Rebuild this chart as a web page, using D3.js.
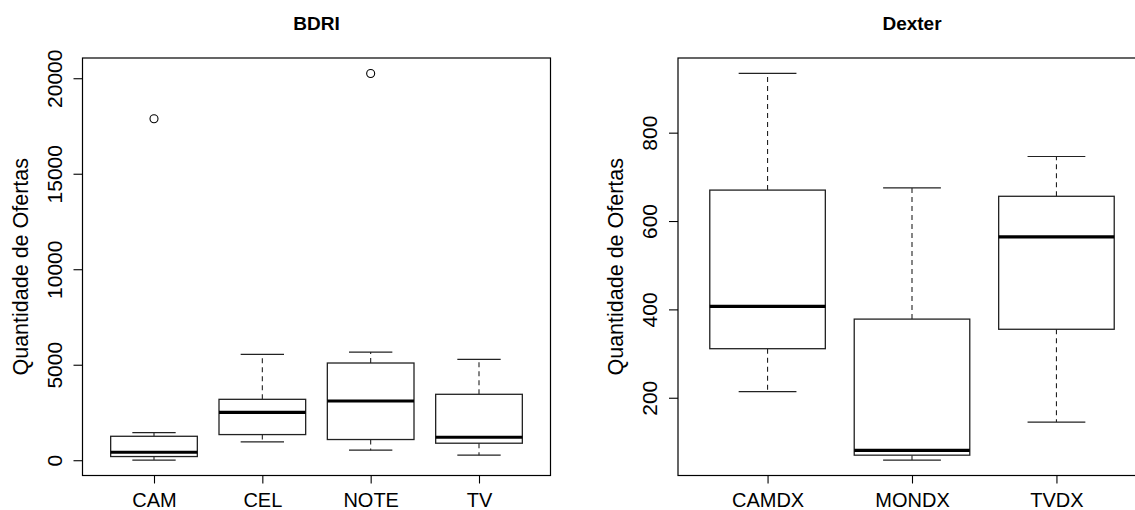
<!DOCTYPE html>
<html>
<head>
<meta charset="utf-8">
<script src="https://cdn.jsdelivr.net/npm/d3@7"></script>
<style>
  html, body { margin: 0; padding: 0; background: #fff; }
  svg { display: block; font-family: "Liberation Sans", Arial, sans-serif; }
</style>
</head>
<body>
<svg id="chart" width="1135" height="510"></svg>
<script>
// ---- data: five-number summaries (lower whisker, Q1, median, Q3, upper whisker) ----
const bdriCategories = ["CAM", "CEL", "NOTE", "TV"];
const bdriLow    = [10, 957, 525, 263];
const bdriQ1     = [193, 1343, 1084, 891];
const bdriMedian = [418, 2509, 3102, 1204];
const bdriQ3     = [1254, 3189, 5090, 3452];
const bdriHigh   = [1448, 5541, 5663, 5282];
const bdriOutliers = [[17880], [], [20250], []];
const bdriTicks = [0, 5000, 10000, 15000, 20000];

const dexterCategories = ["CAMDX", "MONDX", "TVDX"];
const dexterLow    = [214, 59, 145];
const dexterQ1     = [311, 70, 355];
const dexterMedian = [407, 81, 564];
const dexterQ3     = [670, 378, 656];
const dexterHigh   = [934, 675, 746];
const dexterOutliers = [[], [], []];
const dexterTicks = [200, 400, 600, 800];

const yLabel = "Quantidade de Ofertas";

const svg = d3.select("#chart");

function boxPanel(opts) {
  const { left, title, categories, low, q1, median, q3, high, outliers, ticks } = opts;
  const top = 58, bottom = 475.5, width = 468;
  const n = categories.length;

  // x: groups at 1..n, limits (0.5, n+0.5) widened by 4%
  const xPad = n * 0.04;
  const x = d3.scaleLinear()
    .domain([0.5 - xPad, n + 0.5 + xPad])
    .range([left, left + width]);

  // y: data range widened by 4%
  const all = [].concat(low, high, ...outliers);
  const lo = d3.min(all), hi = d3.max(all);
  const yPad = (hi - lo) * 0.04;
  const y = d3.scaleLinear().domain([lo - yPad, hi + yPad]).range([bottom, top]);

  const unit = x(2) - x(1);
  const boxW = unit * 0.8;
  const stapleW = boxW * 0.5;

  const g = svg.append("g");

  // title
  g.append("text")
    .attr("x", left + width / 2).attr("y", 30)
    .attr("text-anchor", "middle")
    .attr("font-weight", "bold").attr("font-size", 19)
    .text(title);

  // y axis
  const yAxis = g.append("g")
    .attr("transform", `translate(${left},0)`)
    .call(d3.axisLeft(y).tickValues(ticks).tickSize(9).tickSizeOuter(0).tickFormat(d3.format("d")));
  yAxis.select(".domain").remove();
  yAxis.selectAll(".tick line").attr("stroke", "#000").attr("stroke-width", 1.1);
  yAxis.selectAll(".tick text")
    .attr("x", null).attr("dy", null)
    .attr("transform", "translate(-21,0) rotate(-90)")
    .attr("text-anchor", "middle")
    .attr("font-size", 21).attr("fill", "#000");

  // y label
  g.append("text")
    .attr("transform", `translate(${left - 55},${(top + bottom) / 2}) rotate(-90)`)
    .attr("text-anchor", "middle")
    .attr("font-size", 21.5)
    .text(yLabel);

  // x axis
  const xAxis = g.append("g")
    .attr("transform", `translate(0,${bottom})`)
    .call(d3.axisBottom(x).tickValues(d3.range(1, n + 1)).tickSize(8).tickSizeOuter(0)
      .tickFormat(d => categories[d - 1]));
  xAxis.select(".domain").remove();
  xAxis.selectAll(".tick line").attr("stroke", "#000").attr("stroke-width", 1.1);
  xAxis.selectAll(".tick text")
    .attr("y", 31).attr("dy", null)
    .attr("font-size", 20).attr("fill", "#000");

  // frame
  g.append("rect")
    .attr("x", left).attr("y", top)
    .attr("width", width).attr("height", bottom - top)
    .attr("fill", "none").attr("stroke", "#000").attr("stroke-width", 1.2);

  const stroke = "#222";
  const items = categories.map((c, i) => ({ c, i }));

  const box = g.selectAll(".box").data(items).join("g").attr("class", "box");

  // whiskers (dashed)
  box.append("line")
    .attr("x1", d => x(d.i + 1)).attr("x2", d => x(d.i + 1))
    .attr("y1", d => y(q3[d.i])).attr("y2", d => y(high[d.i]))
    .attr("stroke", stroke).attr("stroke-width", 1.1).attr("stroke-dasharray", "5,4");
  box.append("line")
    .attr("x1", d => x(d.i + 1)).attr("x2", d => x(d.i + 1))
    .attr("y1", d => y(q1[d.i])).attr("y2", d => y(low[d.i]))
    .attr("stroke", stroke).attr("stroke-width", 1.1).attr("stroke-dasharray", "5,4");

  // staples
  [high, low].forEach(arr => {
    box.append("line")
      .attr("x1", d => x(d.i + 1) - stapleW / 2).attr("x2", d => x(d.i + 1) + stapleW / 2)
      .attr("y1", d => y(arr[d.i])).attr("y2", d => y(arr[d.i]))
      .attr("stroke", stroke).attr("stroke-width", 1.2);
  });

  // boxes
  box.append("rect")
    .attr("x", d => x(d.i + 1) - boxW / 2)
    .attr("y", d => y(q3[d.i]))
    .attr("width", boxW)
    .attr("height", d => y(q1[d.i]) - y(q3[d.i]))
    .attr("fill", "#fff").attr("stroke", stroke).attr("stroke-width", 1.3);

  // medians
  box.append("line")
    .attr("x1", d => x(d.i + 1) - boxW / 2).attr("x2", d => x(d.i + 1) + boxW / 2)
    .attr("y1", d => y(median[d.i])).attr("y2", d => y(median[d.i]))
    .attr("stroke", "#000").attr("stroke-width", 3.2);

  // outliers
  box.selectAll("circle")
    .data(d => outliers[d.i].map(v => ({ i: d.i, v })))
    .join("circle")
    .attr("cx", d => x(d.i + 1)).attr("cy", d => y(d.v))
    .attr("r", 4)
    .attr("fill", "none").attr("stroke", "#000").attr("stroke-width", 1.1);
}

boxPanel({
  left: 82.5, title: "BDRI", categories: bdriCategories,
  low: bdriLow, q1: bdriQ1, median: bdriMedian, q3: bdriQ3, high: bdriHigh,
  outliers: bdriOutliers, ticks: bdriTicks
});

boxPanel({
  left: 678, title: "Dexter", categories: dexterCategories,
  low: dexterLow, q1: dexterQ1, median: dexterMedian, q3: dexterQ3, high: dexterHigh,
  outliers: dexterOutliers, ticks: dexterTicks
});
</script>
</body>
</html>
